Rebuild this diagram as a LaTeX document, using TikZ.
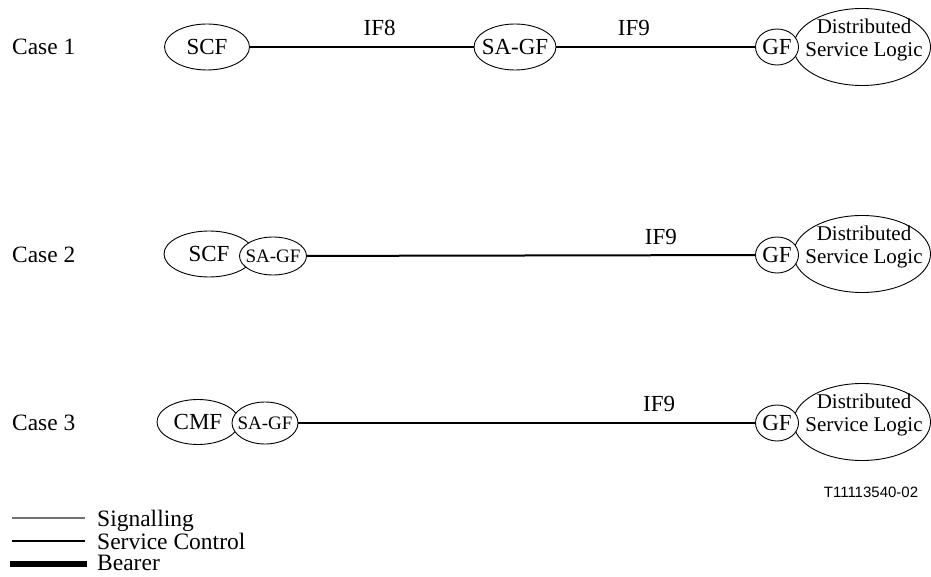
\documentclass[tikz,border=0pt]{standalone}
\usepackage{fontspec}
\setmainfont{Liberation Serif}
\newfontfamily\tnumfont{Liberation Sans}
\usetikzlibrary{shapes.geometric}
\tikzstyle{func} = [ellipse, draw=black, line width=0.9pt, fill=white, inner sep=0pt, font=\fontsize{23}{26}\selectfont, execute at begin node={\hbox to 0pt\bgroup\hss}, execute at end node={\hss\egroup}]
\tikzstyle{smallfunc} = [func, font=\fontsize{19}{22}\selectfont]
\tikzstyle{dsl} = [ellipse, draw=black, line width=0.9pt, fill=white, minimum width=137, minimum height=77, inner sep=0pt]
\tikzstyle{dsltext} = [align=center, inner sep=0pt, font=\fontsize{21}{23}\selectfont]
\tikzstyle{casetext} = [anchor=west, inner sep=0pt, font=\fontsize{23.4}{26}\selectfont]
\tikzstyle{iflabel} = [above=10pt, inner sep=0pt, font=\fontsize{23}{26}\selectfont]
\tikzstyle{service} = [line width=2pt]
\tikzstyle{legtext} = [anchor=west, inner sep=0pt, text depth=0pt, font=\fontsize{23.5}{25}\selectfont]

\begin{document}
\begin{tikzpicture}[x=1pt, y=-1pt]
        \useasboundingbox (0,0) rectangle (931,577);

        % Case 1
        \node (case1) [casetext] at (12,47) {Case 1};
        \node (scf1) [func, minimum width=85, minimum height=46] at (207,47) {SCF};
        \node (sagf1) [func, minimum width=82, minimum height=46] at (515,47) {SA-GF};
        \node (dsl1) [dsl] at (862,47) {};
        \node (gf1) [func, minimum width=43, minimum height=36] at (777,47) {GF};
        \node (dsltext1) [dsltext] at (864,40) {Distributed\\Service Logic};
        \draw[service] (scf1) -- node[iflabel, pos=0.58] (if8) {IF8} (sagf1);
        \draw[service] (sagf1) -- node[iflabel, pos=0.39] (if9a) {IF9} (gf1);

        % Case 2
        \node (case2) [casetext] at (12,255) {Case 2};
        \node (scf2) [func, minimum width=90, minimum height=46] at (209,254) {SCF};
        \node (sagf2) [smallfunc, minimum width=67, minimum height=38] at (273,256) {SA-GF};
        \node (dsl2) [dsl] at (862,254) {};
        \node (gf2) [func, minimum width=43, minimum height=36] at (777,255) {GF};
        \node (dsltext2) [dsltext] at (864,247) {Distributed\\Service Logic};
        \draw[service] (sagf2) -- node[iflabel, pos=0.79] (if9b) {IF9} (gf2);

        % Case 3
        \node (case3) [casetext] at (12,423) {Case 3};
        \node (cmf3) [func, minimum width=82, minimum height=45] at (198,422) {CMF};
        \node (sagf3) [smallfunc, minimum width=66, minimum height=42] at (265,423) {SA-GF};
        \node (dsl3) [dsl] at (862,422) {};
        \node (gf3) [func, minimum width=43, minimum height=36] at (777,423) {GF};
        \node (dsltext3) [dsltext] at (864,415) {Distributed\\Service Logic};
        \draw[service] (sagf3) -- node[iflabel, pos=0.79] (if9c) {IF9} (gf3);

        \node (tnum) [inner sep=0pt, font=\tnumfont\fontsize{15}{17}\selectfont] at (871,492) {T11113540-02};

        % legend
        \node (sigtext) [legtext] at (97,518) {Signalling};
        \node (svctext) [legtext] at (97,541) {Service Control};
        \node (beartext) [legtext] at (97,563) {Bearer};
        \coordinate (sigstart) at (12,518);
        \coordinate (svcstart) at (12,541);
        \coordinate (bearstart) at (10,564);
        \draw[line width=1.3pt, black!55] (sigstart) -- ([xshift=-12pt]sigtext.west);
        \draw[service] (svcstart) -- ([xshift=-12pt]svctext.west);
        \draw[line width=5.5pt] (bearstart) -- ([xshift=-10pt,yshift=-1pt]beartext.west);
\end{tikzpicture}
\end{document}
